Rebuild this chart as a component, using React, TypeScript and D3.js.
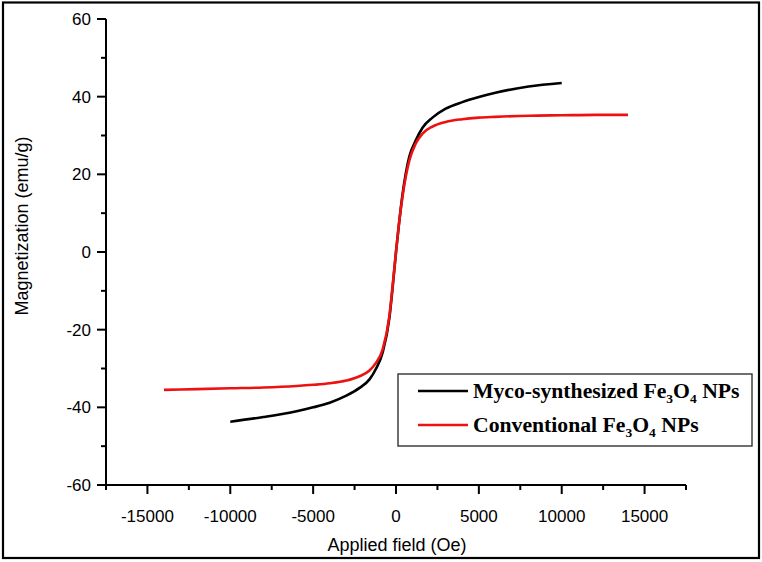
import React from "react";
import * as d3 from "d3";

const mycoH = [-10000, -8000, -6000, -5000, -4000, -3000, -2200, -1600, -1200, -800, -400, -200, 0, 200, 400, 800, 1200, 1600, 2200, 3000, 4000, 5000, 6000, 8000, 10000];
const mycoM = [-43.7, -42.5, -41.0, -40.0, -38.8, -37.0, -35.0, -32.8, -30.0, -25.8, -17.0, -9.0, 0, 8, 15, 24.5, 28.8, 32.0, 34.6, 36.9, 38.6, 39.9, 41.0, 42.6, 43.5];

const convH = [-14000, -12000, -10000, -8000, -6000, -5000, -4000, -3000, -2200, -1600, -1200, -800, -400, -200, 0, 200, 400, 800, 1200, 1600, 2200, 3000, 4000, 5000, 6000, 8000, 10000, 12000, 14000];
const convM = [-35.5, -35.3, -35.1, -34.9, -34.5, -34.2, -33.8, -33.1, -32.0, -30.5, -28.5, -25.0, -16.5, -8.5, 0, 8, 14.5, 23.5, 28.0, 30.5, 32.3, 33.5, 34.2, 34.6, 34.8, 35.1, 35.2, 35.3, 35.3];

const xTicks = [-15000, -10000, -5000, 0, 5000, 10000, 15000];
const xMinorTicks = [-17500, -12500, -7500, -2500, 2500, 7500, 12500, 17500];
const yTicks = [-60, -40, -20, 0, 20, 40, 60];
const yMinorTicks = [-50, -30, -10, 10, 30, 50];

const seriesNames = ["Myco-synthesized", "Conventional"];
const seriesColors = ["#000000", "#ee1111"];

export default function App() {
  const x = d3.scaleLinear().domain([-17500, 17500]).range([106, 686]);
  const y = d3.scaleLinear().domain([-60, 60]).range([485, 19]);
  const line = d3
    .line<[number, number]>()
    .x((d) => x(d[0]))
    .y((d) => y(d[1]))
    .curve(d3.curveMonotoneX);
  const myco = mycoH.map((h, i) => [h, mycoM[i]] as [number, number]);
  const conv = convH.map((h, i) => [h, convM[i]] as [number, number]);
  const x0 = x.range()[0];
  const y0 = y.range()[0];
  const tickFont = "'Liberation Sans', Arial, sans-serif";
  const serif = "'Liberation Serif', 'Times New Roman', serif";

  const legendItems = [
    { name: seriesNames[0], color: seriesColors[0], yy: 391 },
    { name: seriesNames[1], color: seriesColors[1], yy: 425 },
  ];

  return (
    <svg
      width={762}
      height={562}
      style={{ position: "absolute", left: 0, top: 0, background: "#fff" }}
    >
      <rect x={0} y={0} width={762} height={562} fill="#fff" />
      <rect x={3} y={2.5} width={756} height={555.5} fill="none" stroke="#000" strokeWidth={2.2} />

      {/* curves */}
      <path d={line(myco) || ""} fill="none" stroke={seriesColors[0]} strokeWidth={2.6} />
      <path d={line(conv) || ""} fill="none" stroke={seriesColors[1]} strokeWidth={2.6} />

      {/* axes */}
      <line x1={x0} y1={y.range()[1]} x2={x0} y2={y0 + 1} stroke="#000" strokeWidth={2} />
      <line x1={x0 - 1} y1={y0} x2={x.range()[1]} y2={y0} stroke="#000" strokeWidth={2} />

      {yTicks.map((t) => (
        <g key={"yt" + t}>
          <line x1={x0 - 9} x2={x0} y1={y(t)} y2={y(t)} stroke="#000" strokeWidth={2} />
          <text
            x={x0 - 15}
            y={y(t)}
            dy="0.36em"
            textAnchor="end"
            fontFamily={tickFont}
            fontSize={17}
            fill="#000"
          >
            {t}
          </text>
        </g>
      ))}
      {yMinorTicks.map((t) => (
        <line key={"ym" + t} x1={x0 - 5} x2={x0} y1={y(t)} y2={y(t)} stroke="#000" strokeWidth={2} />
      ))}
      {xTicks.map((t) => (
        <g key={"xt" + t}>
          <line x1={x(t)} x2={x(t)} y1={y0} y2={y0 + 9} stroke="#000" strokeWidth={2} />
          <text
            x={x(t)}
            y={y0 + 37}
            textAnchor="middle"
            fontFamily={tickFont}
            fontSize={17}
            fill="#000"
          >
            {t}
          </text>
        </g>
      ))}
      {xMinorTicks.map((t) => (
        <line key={"xm" + t} x1={x(t)} x2={x(t)} y1={y0} y2={y0 + 5} stroke="#000" strokeWidth={2} />
      ))}

      {/* axis labels */}
      <text
        x={397}
        y={551}
        textAnchor="middle"
        fontFamily={tickFont}
        fontSize={18}
        fill="#000"
      >
        Applied field (Oe)
      </text>
      <text
        transform={`translate(28, 226) rotate(-90)`}
        textAnchor="middle"
        fontFamily={tickFont}
        fontSize={18}
        fill="#000"
      >
        Magnetization (emu/g)
      </text>

      {/* legend */}
      <rect x={398} y={374} width={354} height={72} fill="#fff" stroke="#333" strokeWidth={1.4} />
      {legendItems.map((it) => (
        <g key={it.name}>
          <line x1={418} x2={468} y1={it.yy} y2={it.yy} stroke={it.color} strokeWidth={2.6} />
          <text
            x={473}
            y={it.yy + 7}
            fontFamily={serif}
            fontWeight="bold"
            fontSize={21.7}
            fill="#000"
          >
            {it.name} Fe
            <tspan fontSize={13.5} dy={5}>3</tspan>
            <tspan dy={-5}>O</tspan>
            <tspan fontSize={13.5} dy={5}>4</tspan>
            <tspan dy={-5}> NPs</tspan>
          </text>
        </g>
      ))}
    </svg>
  );
}
